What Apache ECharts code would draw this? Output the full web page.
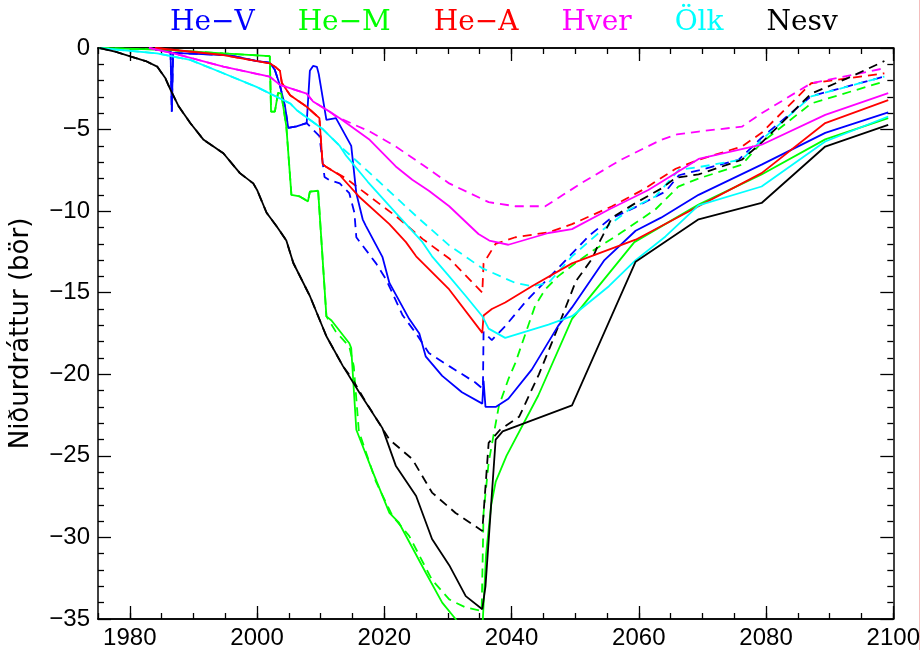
<!DOCTYPE html>
<html>
<head>
<meta charset="utf-8">
<script src="https://cdn.jsdelivr.net/npm/echarts@6/dist/echarts.min.js"></script>
<style>
  html, body { margin: 0; padding: 0; background: #fff; }
  #chart { width: 923px; height: 650px; }
</style>
</head>
<body>
<div id="chart"></div>
<script>
// tick labels
var xTicks = [1980, 2000, 2020, 2040, 2060, 2080, 2100];
var names = ['He−V', 'He−M', 'He−A', 'Hver', 'Ölk', 'Nesv'];

// [ár, niðurdráttur] - heil lína
var heV = [[1984.0,-0.1],[1986.4,-0.2],[1986.6,-3.9],[1986.8,-0.3],[1995.8,-0.45],[2000.0,-0.8],[2002.0,-0.9],[2002.8,-1.35],[2003.6,-2.3],[2004.4,-3.6],[2004.9,-4.9],[2006.2,-4.8],[2007.8,-4.6],[2008.3,-1.4],[2008.8,-1.1],[2009.4,-1.15],[2009.7,-1.6],[2010.9,-4.4],[2012.4,-4.3],[2014.8,-6.0],[2015.6,-8.9],[2016.6,-10.5],[2017.1,-10.9],[2019.7,-12.8],[2020.8,-14.4],[2023.9,-16.6],[2025.5,-17.5],[2026.5,-18.9],[2029.1,-20.1],[2032.2,-21.1],[2035.4,-21.8],[2035.6,-20.4],[2035.9,-22.0],[2037.5,-22.0],[2039.5,-21.5],[2043.2,-19.7],[2047.3,-17.05],[2049.5,-15.9],[2054.6,-13.0],[2059.5,-11.2],[2063.5,-10.4],[2069.4,-9.0],[2079.3,-7.15],[2089.3,-5.2],[2099.2,-3.95]];
var heM = [[1975.3,0],[1985.0,-0.1],[1994.7,-0.33],[2002.0,-0.5],[2002.2,-3.9],[2002.8,-3.9],[2003.3,-2.75],[2003.8,-2.8],[2004.6,-4.8],[2005.4,-9.0],[2006.7,-9.1],[2008.0,-9.4],[2008.3,-8.8],[2009.6,-8.75],[2009.8,-8.8],[2010.9,-16.45],[2011.7,-16.7],[2014.5,-18.1],[2014.8,-18.4],[2015.6,-23.4],[2018.2,-26.0],[2020.8,-28.5],[2022.3,-29.1],[2026.5,-32.15],[2029.1,-34.0],[2031.2,-35.0],[2033.0,-36.5],[2035.3,-36.5],[2036.0,-31.0],[2036.8,-28.0],[2037.5,-26.6],[2039.2,-25.0],[2044.2,-21.3],[2049.5,-16.6],[2059.3,-11.9],[2069.4,-9.6],[2079.3,-7.75],[2089.3,-5.6],[2099.2,-4.3]];
var heA = [[1984.0,0],[1994.7,-0.43],[2002.0,-0.94],[2003.0,-1.2],[2003.6,-1.4],[2003.9,-2.15],[2005.2,-2.9],[2007.8,-3.6],[2009.8,-4.3],[2010.3,-7.1],[2010.9,-7.3],[2013.0,-7.8],[2016.0,-9.1],[2020.8,-10.8],[2023.4,-11.9],[2025.0,-12.77],[2030.2,-14.8],[2035.4,-17.46],[2035.6,-16.4],[2036.9,-16.0],[2039.0,-15.6],[2043.2,-14.6],[2049.5,-13.2],[2059.5,-11.75],[2069.4,-9.7],[2079.3,-7.67],[2089.3,-4.6],[2099.2,-3.2]];
var hver = [[1983.0,0],[1986.9,-0.33],[1994.7,-1.14],[2002.0,-1.76],[2003.6,-2.26],[2007.8,-2.8],[2008.8,-3.28],[2011.4,-3.9],[2013.0,-4.3],[2017.7,-5.63],[2021.8,-7.26],[2024.4,-8.08],[2027.0,-8.75],[2030.2,-9.7],[2034.8,-11.4],[2036.5,-11.8],[2039.5,-12.06],[2045.8,-11.34],[2049.5,-11.1],[2055.3,-9.9],[2061.5,-8.7],[2069.4,-6.8],[2079.3,-5.93],[2089.3,-4.1],[2099.2,-2.77]];
var olk = [[1975.3,0],[1984.3,-0.33],[1989.5,-0.73],[1994.7,-1.55],[2000.0,-2.4],[2005.2,-3.4],[2006.2,-3.8],[2010.4,-5.0],[2013.0,-6.0],[2014.0,-6.6],[2017.4,-8.2],[2021.8,-10.1],[2026.0,-11.9],[2027.5,-12.77],[2030.2,-14.0],[2032.8,-15.2],[2035.4,-16.44],[2036.4,-17.2],[2039.0,-17.77],[2045.8,-16.95],[2049.5,-16.44],[2055.3,-14.6],[2059.5,-13.0],[2064.2,-11.55],[2069.4,-9.65],[2079.3,-8.49],[2089.3,-5.73],[2099.2,-4.2]];
var nesv = [[1975.3,0],[1977.5,-0.2],[1980.2,-0.53],[1982.5,-0.8],[1984.3,-1.14],[1985.6,-1.86],[1986.4,-2.57],[1987.7,-3.59],[1989.5,-4.6],[1991.6,-5.63],[1994.7,-6.45],[1997.3,-7.67],[1999.4,-8.3],[2000.0,-8.7],[2001.5,-10.1],[2003.1,-10.94],[2004.6,-11.8],[2005.7,-13.18],[2008.3,-15.2],[2010.9,-17.67],[2013.5,-19.5],[2016.1,-21.13],[2019.7,-23.3],[2021.8,-25.6],[2025.0,-27.46],[2027.5,-30.1],[2030.2,-31.7],[2032.8,-33.6],[2035.4,-34.4],[2035.9,-33.0],[2037.5,-24.0],[2038.6,-23.5],[2049.5,-21.9],[2059.5,-13.1],[2069.4,-10.5],[2079.3,-9.5],[2089.3,-6.04],[2099.2,-4.71]];

// brotin lína
var heVD = [[1984.0,-0.1],[1986.4,-0.2],[1986.6,-3.9],[1986.8,-0.3],[1995.8,-0.45],[2000.0,-0.8],[2002.0,-0.9],[2002.8,-1.35],[2003.6,-2.3],[2004.4,-3.6],[2004.9,-4.9],[2006.2,-4.8],[2007.8,-4.6],[2008.8,-5.0],[2009.8,-5.4],[2010.6,-7.9],[2011.4,-8.1],[2013.0,-8.3],[2014.5,-8.9],[2015.3,-10.1],[2015.6,-11.6],[2018.7,-13.2],[2020.3,-14.2],[2022.9,-16.4],[2025.0,-17.5],[2027.0,-18.7],[2030.2,-19.5],[2034.3,-20.5],[2035.5,-20.9],[2035.6,-17.4],[2036.9,-17.9],[2039.0,-17.05],[2042.1,-15.6],[2046.8,-13.7],[2050.5,-12.2],[2052.2,-11.5],[2055.4,-10.5],[2059.5,-9.75],[2064.2,-8.8],[2066.3,-7.8],[2069.4,-7.5],[2075.7,-6.85],[2079.3,-5.5],[2087.1,-2.95],[2098.6,-1.75]];
var heMD = [[1975.3,0],[1985.0,-0.1],[1994.7,-0.33],[2002.0,-0.5],[2002.2,-3.9],[2002.8,-3.9],[2003.3,-2.75],[2003.8,-2.8],[2004.6,-4.8],[2005.4,-9.0],[2006.7,-9.1],[2008.0,-9.4],[2008.3,-8.8],[2009.6,-8.75],[2009.8,-8.8],[2010.9,-16.45],[2012.4,-17.4],[2014.5,-18.3],[2015.2,-19.5],[2016.0,-23.5],[2018.7,-26.6],[2021.3,-28.7],[2023.9,-29.9],[2027.5,-32.6],[2030.2,-33.8],[2032.8,-34.3],[2035.3,-34.5],[2035.6,-28.5],[2036.4,-25.4],[2038.0,-21.95],[2039.5,-20.3],[2040.6,-19.3],[2043.7,-15.8],[2045.3,-14.8],[2047.3,-14.0],[2050.0,-13.2],[2052.5,-12.5],[2057.3,-11.3],[2062.6,-9.9],[2066.2,-8.5],[2069.4,-8.0],[2076.2,-7.15],[2079.3,-5.8],[2087.1,-3.4],[2098.6,-2.05]];
var heAD = [[1984.0,0],[1994.7,-0.43],[2002.0,-0.94],[2003.0,-1.2],[2003.6,-1.4],[2003.9,-2.15],[2005.2,-2.9],[2007.8,-3.6],[2009.8,-4.3],[2010.3,-7.1],[2010.9,-7.3],[2014.0,-8.0],[2017.7,-9.1],[2021.8,-10.3],[2026.0,-11.7],[2030.2,-12.9],[2035.4,-15.0],[2035.6,-13.2],[2037.5,-12.0],[2040.6,-11.6],[2045.8,-11.3],[2049.5,-10.8],[2055.8,-9.7],[2060.6,-8.7],[2065.8,-7.4],[2069.4,-6.85],[2076.2,-6.04],[2079.3,-5.2],[2087.1,-2.16],[2098.6,-1.55]];
var hverD = [[1983.0,0],[1986.9,-0.33],[1994.7,-1.14],[2002.0,-1.76],[2003.6,-2.26],[2007.8,-2.8],[2008.8,-3.28],[2011.4,-3.9],[2012.4,-4.2],[2017.7,-5.12],[2021.8,-6.04],[2026.0,-7.16],[2030.2,-8.3],[2036.4,-9.45],[2040.6,-9.7],[2045.3,-9.7],[2051.0,-8.28],[2057.2,-6.85],[2063.5,-5.63],[2066.0,-5.3],[2069.4,-5.12],[2076.2,-4.82],[2079.3,-4.0],[2087.1,-2.16],[2098.6,-1.24]];
var olkD = [[1975.3,0],[1984.3,-0.33],[1989.5,-0.73],[1994.7,-1.55],[2000.0,-2.4],[2005.2,-3.4],[2006.2,-3.8],[2010.4,-5.0],[2013.0,-6.0],[2016.6,-7.26],[2020.3,-8.6],[2025.0,-10.3],[2030.2,-12.1],[2035.4,-13.5],[2040.6,-14.4],[2043.2,-14.6],[2045.8,-14.4],[2049.5,-12.77],[2053.7,-11.34],[2058.5,-9.9],[2062.6,-9.1],[2066.3,-7.47],[2069.4,-7.3],[2076.2,-6.85],[2079.3,-5.63],[2087.1,-2.97],[2098.6,-1.75]];
var nesvD = [[1975.3,0],[1977.5,-0.2],[1980.2,-0.53],[1982.5,-0.8],[1984.3,-1.14],[1985.6,-1.86],[1986.4,-2.57],[1987.7,-3.59],[1989.5,-4.6],[1991.6,-5.63],[1994.7,-6.45],[1997.3,-7.67],[1999.4,-8.3],[2000.0,-8.7],[2001.5,-10.1],[2003.1,-10.94],[2004.6,-11.8],[2005.7,-13.18],[2008.3,-15.2],[2010.9,-17.67],[2013.5,-19.5],[2015.0,-20.3],[2017.1,-21.7],[2020.8,-24.0],[2024.4,-25.2],[2027.5,-27.25],[2031.2,-28.5],[2035.4,-29.6],[2036.4,-24.2],[2038.2,-23.4],[2041.2,-22.6],[2044.3,-20.0],[2046.4,-18.0],[2048.0,-16.4],[2050.1,-14.3],[2052.7,-12.9],[2053.8,-11.9],[2055.8,-10.4],[2059.5,-9.5],[2063.6,-8.6],[2065.8,-7.95],[2069.4,-7.75],[2076.2,-6.85],[2079.3,-5.8],[2087.1,-2.8],[2093.4,-1.75],[2098.6,-0.8]];

var colors = ['#0000ff', '#00ff00', '#ff0000', '#ff00ff', '#00ffff', '#000000'];
var solid = [heV, heM, heA, hver, olk, nesv];
var dashed = [heVD, heMD, heAD, hverD, olkD, nesvD];

var chart = echarts.init(document.getElementById('chart'));

function mkLine(name, data, color, dash) {
  return {
    name: name,
    type: 'line',
    data: data,
    symbol: 'none',
    silent: true,
    lineStyle: { color: color, width: 1.8, type: dash ? [9, 6] : 'solid' },
    itemStyle: { color: color },
    z: dash ? 2 : 3
  };
}

var series = [];
for (var i = 0; i < names.length; i++) {
  series.push(mkLine(names[i], dashed[i], colors[i], true));
  series.push(mkLine(names[i], solid[i], colors[i], false));
}

// x axes: labelled bottom axis plus extra ones for long ticks and the top frame;
// the extra ones keep labels switched on but invisible, otherwise their ticks vanish
function xAx(pos, major, labels) {
  var ax = {
    type: 'value', min: 1975, max: 2100, position: pos,
    axisLine: { show: true, onZero: false, lineStyle: { color: '#000', width: 1.5 } },
    axisTick: { show: true, inside: true, length: major ? 13 : 6, lineStyle: { color: '#000', width: 1.3 } },
    axisLabel: {
      show: true, customValues: xTicks,
      color: labels ? '#000' : 'rgba(0,0,0,0)',
      fontSize: labels ? 24 : 10,
      fontFamily: 'Liberation Sans', margin: 7,
      formatter: function (v) { return String(v); }
    },
    splitLine: { show: false }
  };
  if (major) ax.axisTick.customValues = xTicks;
  else ax.interval = 5;
  return ax;
}

function yAx(pos, labels) {
  return {
    type: 'value', min: -35, max: 0, interval: 5, position: pos,
    axisLine: { show: true, onZero: false, lineStyle: { color: '#000', width: 1.5 } },
    axisTick: { show: true, inside: true, length: 13, lineStyle: { color: '#000', width: 1.3 } },
    minorTick: { show: true, splitNumber: 5, length: 6, lineStyle: { color: '#000', width: 1.3 } },
    axisLabel: {
      show: true,
      color: labels ? '#000' : 'rgba(0,0,0,0)',
      fontSize: labels ? 24 : 10, fontFamily: 'Liberation Sans', margin: 8,
      formatter: function (v) { return String(v).replace('-', '−'); }
    },
    splitLine: { show: false },
    minorSplitLine: { show: false },
    name: labels ? 'Niðurdráttur (bör)' : '',
    nameLocation: 'middle',
    nameGap: 64,
    nameTextStyle: { color: '#000', fontSize: 26, fontFamily: 'DejaVu Sans' }
  };
}

chart.setOption({
  animation: false,
  backgroundColor: '#fff',
  grid: { left: 98, right: 28, top: 48, bottom: 30 },
  legend: {
    top: 4, left: 160, itemGap: 38, itemWidth: 0, itemHeight: 0,
    selectedMode: false,
    textStyle: { fontFamily: 'DejaVu Serif', fontSize: 28 },
    data: names.map(function (n, i) {
      return { name: n, icon: 'none', textStyle: { color: colors[i] } };
    })
  },
  xAxis: [xAx('bottom', false, true), xAx('bottom', true, false), xAx('top', false, false), xAx('top', true, false)],
  yAxis: [yAx('left', true), yAx('right', false)],
  graphic: [{
    type: 'line', shape: { x1: 919.5, y1: 0, x2: 919.5, y2: 650 },
    style: { stroke: '#f4bcbc', lineWidth: 1 }
  }],
  series: series
});
</script>
</body>
</html>
